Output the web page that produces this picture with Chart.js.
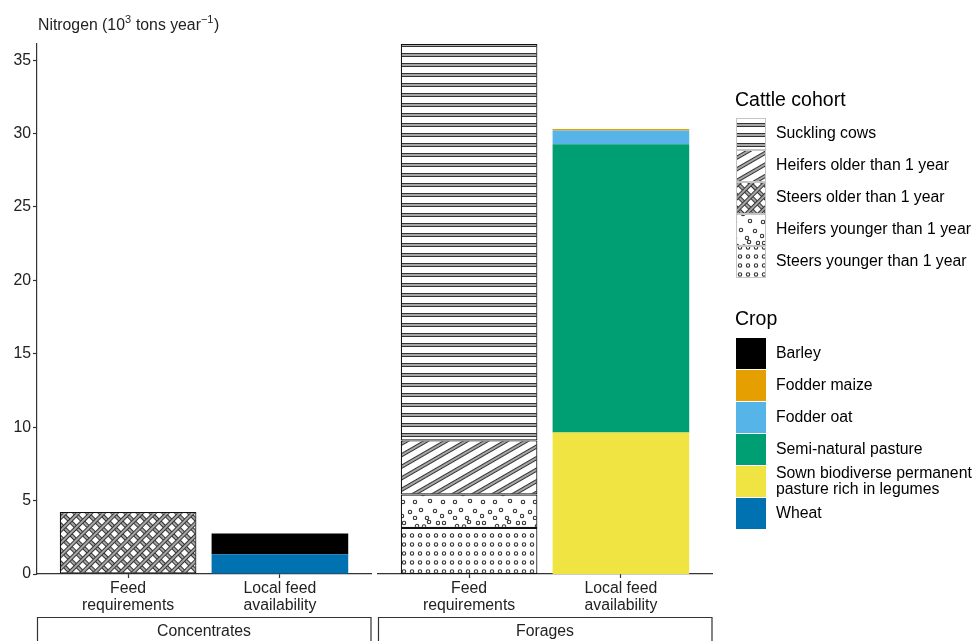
<!DOCTYPE html>
<html>
<head>
<meta charset="utf-8">
<script src="https://cdn.jsdelivr.net/npm/chart.js@4.4.1/dist/chart.umd.min.js"></script>
<style>
  html, body { margin: 0; padding: 0; background: #fff; }
  #wrap { position: relative; width: 975px; height: 641px; overflow: hidden; }
  canvas { position: absolute; top: 0; left: 0; }
</style>
</head>
<body>
<div id="wrap">
  <canvas id="forages" width="975" height="641"></canvas>
  <canvas id="concentrates" width="375" height="641"></canvas>
</div>
<script>
// x categories (two-line tick labels)
const categories = [['Feed', 'requirements'], ['Local feed', 'availability']];
const panels = ['Concentrates', 'Forages'];

// Legend order (top to bottom); bars stack in the reverse order
const cohorts = ['Suckling cows', 'Heifers older than 1 year', 'Steers older than 1 year',
                 'Heifers younger than 1 year', 'Steers younger than 1 year'];
const cohortPatterns = ['hstripe', 'diag', 'crosshatch', 'scatter', 'grid'];
const crops = ['Barley', 'Fodder maize', 'Fodder oat', 'Semi-natural pasture',
               'Sown biodiverse permanent\npasture rich in legumes', 'Wheat'];
const cropColors = ['#000000', '#E69F00', '#56B4E9', '#009E73', '#F0E442', '#0072B2'];

// Nitrogen, 10^3 tons per year
const concentratesRequirement = [null, null, 4.22, null, null];          // by cohort
const concentratesAvailability = [1.42, null, null, null, null, 1.34];   // by crop
const foragesRequirement = [27.0, 3.69, null, 2.27, 3.14];               // by cohort
const foragesAvailability = [null, 0.10, 0.93, 19.65, 9.63, null];      // by crop

const yTicks = [0, 5, 10, 15, 20, 25, 30, 35];
const yMax = 36.1;

const FONT = "'Liberation Sans', Arial, Helvetica, sans-serif";
const INK = '#222';
const AXIS = '#333';

// ---------- fill patterns ----------
function tile(w, h) {
  const c = document.createElement('canvas');
  c.width = w; c.height = h;
  const g = c.getContext('2d');
  g.fillStyle = '#fff';
  g.fillRect(0, 0, w, h);
  return [c, g];
}
function band(g, w, y, h, vertical) {
  g.fillStyle = '#a6a6a6';
  if (vertical) {
    g.fillRect(y, 0, h, w);
    g.fillStyle = '#333';
    g.fillRect(y, 0, 1, w); g.fillRect(y + h - 1, 0, 1, w);
  } else {
    g.fillRect(0, y, w, h);
    g.fillStyle = '#333';
    g.fillRect(0, y, w, 1); g.fillRect(0, y + h - 1, w, 1);
  }
}
function ring(g, x, y) {
  g.beginPath();
  g.arc(x, y, 1.7, 0, Math.PI * 2);
  g.fillStyle = '#fff';
  g.fill();
  g.lineWidth = 1.1;
  g.strokeStyle = '#333';
  g.stroke();
}
const scatterDots = [[4, 3], [17, 6], [29, 2], [36, 12], [9, 12], [23, 14], [3, 22],
                     [15, 22], [30, 21], [10, 32], [21, 30], [35, 31], [27, 38],
                     [15, 38], [38, 3], [2, 36], [24, 6.5]];
function makePattern(ctx, kind) {
  let c, g, p;
  if (kind === 'hstripe') {
    [c, g] = tile(10, 10);
    band(g, 10, 3, 4, false);
    return ctx.createPattern(c, 'repeat');
  }
  if (kind === 'diag') {
    [c, g] = tile(10, 10);
    band(g, 10, 3, 4, false);
    p = ctx.createPattern(c, 'repeat');
    p.setTransform(new DOMMatrix().rotate(-30));
    return p;
  }
  if (kind === 'crosshatch') {
    [c, g] = tile(9, 9);
    band(g, 9, 2, 4, false);
    band(g, 9, 2, 4, true);
    p = ctx.createPattern(c, 'repeat');
    p.setTransform(new DOMMatrix().rotate(45));
    return p;
  }
  if (kind === 'scatter') {
    [c, g] = tile(40, 40);
    scatterDots.forEach(([x, y]) => ring(g, x, y));
    return ctx.createPattern(c, 'repeat');
  }
  // regular grid of small rings
  [c, g] = tile(16, 18);
  ring(g, 4, 4.5); ring(g, 12, 4.5); ring(g, 4, 13.5); ring(g, 12, 13.5);
  return ctx.createPattern(c, 'repeat');
}

// ---------- datasets ----------
function buildDatasets(ctx, requirement, availability) {
  const sets = [];
  for (let i = cohorts.length - 1; i >= 0; i--) {
    sets.push({
      label: cohorts[i],
      data: [{ x: 1, y: requirement[i] }, { x: 2, y: null }],
      backgroundColor: makePattern(ctx, cohortPatterns[i]),
      borderColor: '#111',
      borderWidth: 1.2,
      borderSkipped: false
    });
  }
  for (let j = crops.length - 1; j >= 0; j--) {
    sets.push({
      label: crops[j],
      data: [{ x: 1, y: null }, { x: 2, y: availability[j] }],
      backgroundColor: cropColors[j],
      borderWidth: 0
    });
  }
  return sets;
}

// ---------- facet strip under each panel ----------
const stripPlugin = {
  id: 'strip',
  afterDraw(chart, args, opts) {
    const { ctx, chartArea } = chart;
    ctx.save();
    ctx.strokeStyle = AXIS;
    ctx.lineWidth = 1.2;
    ctx.fillStyle = '#fff';
    ctx.beginPath();
    ctx.rect(chartArea.left + 0.5, 617.5, chartArea.right - chartArea.left - 0.5, 30);
    ctx.fill();
    ctx.stroke();
    ctx.fillStyle = INK;
    ctx.font = `15.8px ${FONT}`;
    ctx.textAlign = 'center';
    ctx.textBaseline = 'middle';
    ctx.fillText(opts.text, (chartArea.left + chartArea.right) / 2, 632);
    ctx.restore();
  }
};

// ---------- y axis title with superscripts ----------
const yTitlePlugin = {
  id: 'ytitle',
  afterDraw(chart) {
    const ctx = chart.ctx;
    ctx.save();
    ctx.fillStyle = INK;
    ctx.textBaseline = 'alphabetic';
    ctx.textAlign = 'left';
    const parts = [['Nitrogen (10', false], ['3', true], [' tons year', false], ['\u22121', true], [')', false]];
    let x = 38;
    parts.forEach(([t, sup]) => {
      ctx.font = sup ? `11px ${FONT}` : `15.8px ${FONT}`;
      ctx.fillText(t, x, sup ? 23 : 30);
      x += ctx.measureText(t).width + (sup ? 0.5 : 0);
    });
    ctx.restore();
  }
};

// ---------- legend at right ----------
const legendPlugin = {
  id: 'sideLegend',
  afterDraw(chart) {
    const ctx = chart.ctx;
    const kx = 736, kw = 30, kh = 32, tx = 776;
    ctx.save();
    ctx.fillStyle = '#000';
    ctx.textAlign = 'left';
    ctx.textBaseline = 'middle';
    ctx.font = `19.5px ${FONT}`;
    ctx.fillText('Cattle cohort', 735, 101);
    cohorts.forEach((name, i) => {
      const y = 118 + i * kh;
      ctx.fillStyle = makePattern(ctx, cohortPatterns[i]);
      ctx.fillRect(kx, y, kw, kh);
      ctx.strokeStyle = '#c4c4c4';
      ctx.lineWidth = 1;
      ctx.strokeRect(kx + 0.5, y + 0.5, kw - 1, kh - 1);
      ctx.fillStyle = '#000';
      ctx.font = `15.8px ${FONT}`;
      ctx.fillText(name, tx, y + kh / 2);
    });
    ctx.font = `19.5px ${FONT}`;
    ctx.fillText('Crop', 735, 320);
    crops.forEach((name, j) => {
      const y = 338 + j * kh;
      ctx.fillStyle = cropColors[j];
      ctx.fillRect(kx, y, kw, kh - 1);
      ctx.fillStyle = '#000';
      ctx.font = `15.8px ${FONT}`;
      const lines = name.split('\n');
      lines.forEach((ln, k) => {
        ctx.fillText(ln, tx, y + kh / 2 + (k - (lines.length - 1) / 2) * 16);
      });
    });
    ctx.restore();
  }
};

function makeOptions(showY, padding, panel) {
  return {
    responsive: false,
    animation: false,
    layout: { padding },
    plugins: {
      legend: { display: false },
      tooltip: { enabled: false },
      strip: { text: panel }
    },
    datasets: { bar: { barPercentage: 0.9, categoryPercentage: 1.0 } },
    scales: {
      x: {
        type: 'linear',
        min: 0.4,
        max: 2.6,
        offset: false,
        stacked: true,
        afterBuildTicks: s => { s.ticks = [{ value: 1 }, { value: 2 }]; },
        afterFit: s => { s.height = 67; },
        ticks: {
          autoSkip: false,
          maxRotation: 0,
          padding: 3,
          color: INK,
          font: { family: FONT, size: 15.8, lineHeight: 1.02 },
          callback: v => categories[v - 1]
        },
        grid: { offset: false, drawOnChartArea: false, drawTicks: true, tickLength: 4, color: AXIS, tickWidth: 1.2 },
        border: { display: true, color: AXIS, width: 1.2 }
      },
      y: {
        display: showY,
        min: 0,
        max: yMax,
        stacked: true,
        afterBuildTicks: s => { s.ticks = yTicks.map(v => ({ value: v })); },
        afterFit: s => { s.width = showY ? 37 : 0; },
        ticks: {
          padding: 2,
          color: INK,
          font: { family: FONT, size: 15.8 }
        },
        grid: { drawOnChartArea: false, drawTicks: true, tickLength: 4, color: AXIS, tickWidth: 1.2 },
        border: { display: true, color: AXIS, width: 1.2 }
      }
    }
  };
}

const cA = document.getElementById('concentrates');
new Chart(cA, {
  type: 'bar',
  data: { datasets: buildDatasets(cA.getContext('2d'), concentratesRequirement, concentratesAvailability) },
  options: makeOptions(true, { top: 44, right: 4, left: 0, bottom: 0 }, panels[0]),
  plugins: [stripPlugin, yTitlePlugin]
});

const cB = document.getElementById('forages');
new Chart(cB, {
  type: 'bar',
  data: { datasets: buildDatasets(cB.getContext('2d'), foragesRequirement, foragesAvailability) },
  options: makeOptions(false, { top: 44, right: 263, left: 378, bottom: 0 }, panels[1]),
  plugins: [stripPlugin, legendPlugin]
});
</script>
</body>
</html>
